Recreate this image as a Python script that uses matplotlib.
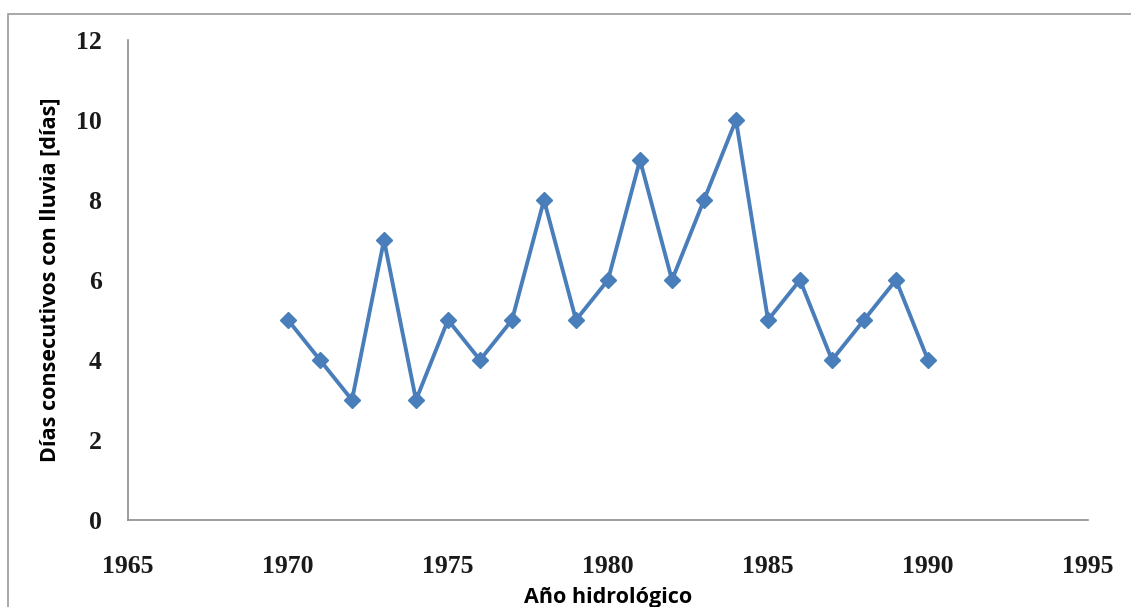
import matplotlib
matplotlib.use("Agg")
import matplotlib.pyplot as plt
from matplotlib.patches import Rectangle

years = [1970, 1971, 1972, 1973, 1974, 1975, 1976, 1977, 1978, 1979, 1980,
         1981, 1982, 1983, 1984, 1985, 1986, 1987, 1988, 1989, 1990]
dias = [5, 4, 3, 7, 3, 5, 4, 5, 8, 5, 6, 9, 6, 8, 10, 5, 6, 4, 5, 6, 4]
xticks = [1965, 1970, 1975, 1980, 1985, 1990, 1995]
yticks = [0, 2, 4, 6, 8, 10, 12]

W, H = 1131, 607
fig = plt.figure(figsize=(W / 100, H / 100), dpi=100)
fig.patches.append(Rectangle((8 / W, -0.01), 1.2, (H - 14) / H + 0.01,
                             transform=fig.transFigure, fill=False,
                             edgecolor="#9a9a9a", linewidth=1.2))
ax = fig.add_axes([128 / W, (H - 520) / H, (1088 - 128) / W, (520 - 40) / H])
ax.plot(years, dias, color="#4a7ebb", linewidth=2.8, marker="D",
        markersize=8.5, markerfacecolor="#4a7ebb", markeredgecolor="#4a7ebb")
ax.set_xlim(1965, 1995)
ax.set_ylim(0, 12)
ax.set_xticks(xticks)
ax.set_yticks(yticks)
for s in ["top", "right"]:
    ax.spines[s].set_visible(False)
for s in ["left", "bottom"]:
    ax.spines[s].set_color("#8c8c8c")
    ax.spines[s].set_linewidth(1.2)
ax.tick_params(length=0, labelsize=18.5, labelcolor="#1a1a1a")
ax.tick_params(axis="x", pad=25)
ax.tick_params(axis="y", pad=19)
for lab in ax.get_xticklabels() + ax.get_yticklabels():
    lab.set_family("Liberation Serif")
    lab.set_fontweight("semibold")
ax.set_xlabel("Año hidrológico", fontsize=15.5, fontweight="bold",
              family="Open Sans", labelpad=7)
ax.set_ylabel("Días consecutivos con lluvia [días]", fontsize=15.5,
              fontweight="bold", family="Open Sans", labelpad=11)
fig.savefig("out.png", dpi=100)
